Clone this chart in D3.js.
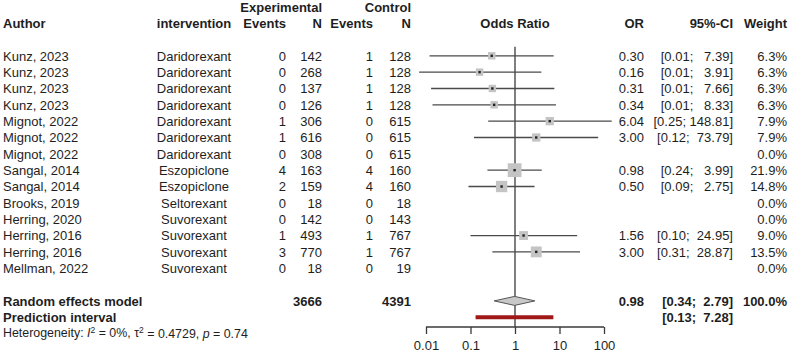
<!DOCTYPE html>
<html>
<head>
<meta charset="utf-8">
<script src="https://cdn.jsdelivr.net/npm/d3@7"></script>
<style>
  body { margin: 0; background: #fff; }
  svg { display: block; font-family: Arial, "Liberation Sans", sans-serif; }
  text { fill: #1e1e1e; }
</style>
</head>
<body>
<div id="chart"></div>
<script>
// studies
const authors = ['Kunz, 2023', 'Kunz, 2023', 'Kunz, 2023', 'Kunz, 2023', 'Mignot, 2022', 'Mignot, 2022', 'Mignot, 2022',
  'Sangal, 2014', 'Sangal, 2014', 'Brooks, 2019', 'Herring, 2020', 'Herring, 2016', 'Herring, 2016', 'Mellman, 2022'];
const interventions = ['Daridorexant', 'Daridorexant', 'Daridorexant', 'Daridorexant', 'Daridorexant', 'Daridorexant', 'Daridorexant',
  'Eszopiclone', 'Eszopiclone', 'Seltorexant', 'Suvorexant', 'Suvorexant', 'Suvorexant', 'Suvorexant'];
const expEvents = [0, 0, 0, 0, 1, 1, 0, 4, 2, 0, 0, 1, 3, 0];
const expN = [142, 268, 137, 126, 306, 616, 308, 163, 159, 18, 142, 493, 770, 18];
const ctrlEvents = [1, 1, 1, 1, 0, 0, 0, 4, 4, 0, 0, 1, 1, 0];
const ctrlN = [128, 128, 128, 128, 615, 615, 615, 160, 160, 18, 143, 767, 767, 19];
const oddsRatio = [0.30, 0.16, 0.31, 0.34, 6.04, 3.00, null, 0.98, 0.50, null, null, 1.56, 3.00, null];
const ciLower = [0.012, 0.007, 0.013, 0.014, 0.25, 0.12, null, 0.24, 0.09, null, null, 0.10, 0.31, null];
const ciUpper = [7.39, 3.91, 7.66, 8.33, 148.81, 73.79, null, 3.99, 2.75, null, null, 24.95, 28.87, null];
const weights = [6.3, 6.3, 6.3, 6.3, 7.9, 7.9, 0, 21.9, 14.8, 0, 0, 9.0, 13.5, 0];

// pooled
const totalExpN = 3666, totalCtrlN = 4391;
const pooledOR = 0.98, pooledLower = 0.34, pooledUpper = 2.79;
const predLower = 0.13, predUpper = 7.28;

const axisTicks = [0.01, 0.1, 1, 10, 100];
const axisLabels = ['0.01', '0.1', '1', '10', '100'];

const width = 790, height = 359;
const svg = d3.select('#chart').append('svg')
  .attr('width', width).attr('height', height);

const x = d3.scaleLog().domain([0.01, 100]).range([426, 604]);
// row index -> vertical centre
const y = d3.scaleLinear().domain([0, 1]).range([55.8, 72.14]);
const axisY = 327;

// column anchors (right edges unless noted)
const col = { author: 3, interv: 194, expEv: 286, expN: 322, ctrlEv: 373, ctrlN: 411, or: 644, ci: 733, weight: 787 };

function txt(xp, row, s, anchor, bold, size) {
  return svg.append('text')
    .attr('x', xp).attr('y', y(row)).attr('dy', '0.37em')
    .attr('text-anchor', anchor || 'end')
    .attr('font-size', size || 13)
    .attr('font-weight', bold ? 'bold' : 'normal')
    .attr('xml:space', 'preserve')
    .style('white-space', 'pre')
    .text(s);
}

// headers
txt(col.expN, -3, 'Experimental', 'end', true);
txt(col.ctrlN, -3, 'Control', 'end', true);
txt(col.author, -2, 'Author', 'start', true);
txt(col.interv, -2, 'intervention', 'middle', true);
txt(col.expEv, -2, 'Events', 'end', true);
txt(col.expN, -2, 'N', 'end', true);
txt(col.ctrlEv, -2, 'Events', 'end', true);
txt(col.ctrlN, -2, 'N', 'end', true);
txt(x(1), -2, 'Odds Ratio', 'middle', true);
txt(col.or, -2, 'OR', 'end', true);
txt(col.ci, -2, '95%-CI', 'end', true);
txt(col.weight, -2, 'Weight', 'end', true);

function fmtCI(lo, hi, w) {
  return '[' + lo.toFixed(2) + '; ' + hi.toFixed(2).padStart(w, ' ') + ']';
}

authors.forEach((a, i) => {
  txt(col.author, i, a, 'start');
  txt(col.interv, i, interventions[i], 'middle');
  txt(col.expEv, i, expEvents[i]);
  txt(col.expN, i, expN[i]);
  txt(col.ctrlEv, i, ctrlEvents[i]);
  txt(col.ctrlN, i, ctrlN[i]);
  if (oddsRatio[i] != null) {
    txt(col.or, i, oddsRatio[i].toFixed(2));
    txt(col.ci, i, fmtCI(ciLower[i], ciUpper[i], 6));
  }
  txt(col.weight, i, weights[i].toFixed(1) + '%');
});

// vertical reference line at OR = 1
svg.append('line')
  .attr('x1', x(1)).attr('x2', x(1))
  .attr('y1', y(-0.55)).attr('y2', axisY)
  .attr('stroke', '#3a3a3a').attr('stroke-width', 1.3);

// study CIs and boxes
const studies = authors.map((a, i) => ({ i, or: oddsRatio[i], lo: ciLower[i], hi: ciUpper[i], w: weights[i] }))
  .filter(d => d.or != null);

svg.selectAll('.ci').data(studies).enter().append('line')
  .attr('x1', d => x(d.lo)).attr('x2', d => x(d.hi))
  .attr('y1', d => y(d.i)).attr('y2', d => y(d.i))
  .attr('stroke', '#4a4a4a').attr('stroke-width', 1.3);

const boxSize = d => Math.max(6, 2.95 * Math.sqrt(d.w));
svg.selectAll('.box').data(studies).enter().append('rect')
  .attr('x', d => x(d.or) - boxSize(d) / 2)
  .attr('y', d => y(d.i) - boxSize(d) / 2)
  .attr('width', boxSize).attr('height', boxSize)
  .attr('fill', '#c4c4c4');

svg.selectAll('.pt').data(studies).enter().append('rect')
  .attr('x', d => x(d.or) - 1.2).attr('y', d => y(d.i) - 1.2)
  .attr('width', 2.4).attr('height', 2.4)
  .attr('fill', '#222');

// random effects diamond
const ry = y(15);
svg.append('path')
  .attr('d', `M${x(pooledLower)},${ry} L${x(pooledOR)},${ry - 4.5} L${x(pooledUpper)},${ry} L${x(pooledOR)},${ry + 4.5} Z`)
  .attr('fill', '#c8c8c8').attr('stroke', '#555').attr('stroke-width', 1);

// prediction interval
svg.append('line')
  .attr('x1', x(predLower)).attr('x2', x(predUpper))
  .attr('y1', y(16)).attr('y2', y(16))
  .attr('stroke', '#a01818').attr('stroke-width', 4);

// summary text
txt(col.author, 15, 'Random effects model', 'start', true);
txt(col.expN, 15, totalExpN, 'end', true);
txt(col.ctrlN, 15, totalCtrlN, 'end', true);
txt(col.or, 15, pooledOR.toFixed(2), 'end', true);
txt(col.ci, 15, fmtCI(pooledLower, pooledUpper, 5), 'end', true);
txt(col.weight, 15, '100.0%', 'end', true);
txt(col.author, 16, 'Prediction interval', 'start', true);
txt(col.ci, 16, fmtCI(predLower, predUpper, 5), 'end', true);

// heterogeneity line
const het = svg.append('text')
  .attr('x', col.author).attr('y', y(16.95)).attr('dy', '0.37em')
  .attr('font-size', 12.4);
het.append('tspan').text('Heterogeneity: ');
het.append('tspan').attr('font-style', 'italic').text('I');
het.append('tspan').attr('font-size', 8.5).attr('dy', '-0.5em').text('2');
het.append('tspan').attr('dy', '0.35em').text(' = 0%, \u03c4');
het.append('tspan').attr('font-size', 8.5).attr('dy', '-0.5em').text('2');
het.append('tspan').attr('dy', '0.35em').text(' = 0.4729, ');
het.append('tspan').attr('font-style', 'italic').text('p');
het.append('tspan').text(' = 0.74');

// x axis
const axis = svg.append('g')
  .attr('transform', `translate(0,${axisY})`)
  .call(d3.axisBottom(x).tickValues(axisTicks).tickFormat((d, i) => axisLabels[i]).tickSize(7).tickPadding(7));
axis.select('.domain').attr('stroke', '#3a3a3a').attr('stroke-width', 1.3)
  .attr('d', `M${x(0.01)},0H${x(100)}`);
axis.selectAll('.tick line').attr('stroke', '#3a3a3a').attr('stroke-width', 1.3);
axis.selectAll('.tick text').attr('font-size', 13).attr('font-family', 'Arial, "Liberation Sans", sans-serif').attr('fill', '#1e1e1e');
</script>
</body>
</html>
